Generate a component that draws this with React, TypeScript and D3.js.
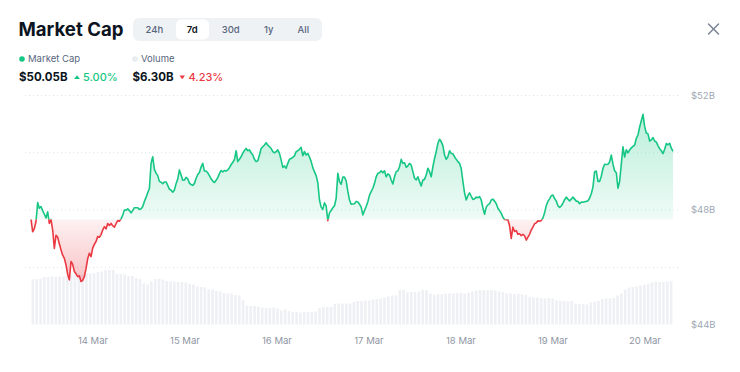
import React from "react";
import * as d3 from "d3";

// Market cap, ~26 min samples, 13 Mar 07:50 → 20 Mar 07:20 (billions USD)
const capValues: number[] = [
  47.67, 47.24, 47.35, 47.60, 48.26, 48.06, 48.12, 47.98, 47.85, 47.72,
  47.94, 47.53, 47.67, 47.30, 46.66, 47.12, 47.05, 46.82, 46.60, 46.42,
  46.31, 46.08, 45.75, 45.56, 46.20, 46.10, 45.85, 45.77, 45.67, 45.70,
  45.50, 45.54, 45.67, 45.95, 46.30, 46.49, 46.37, 46.67, 46.80, 46.90,
  47.07, 47.05, 47.14, 47.30, 47.42, 47.34, 47.53, 47.46, 47.53, 47.45,
  47.40, 47.52, 47.63, 47.61, 47.69, 47.82, 48.00, 47.99, 48.04, 47.98,
  47.90, 47.98, 48.08, 48.08, 48.08, 48.02, 48.04, 48.12, 48.30, 48.44,
  48.60, 48.75, 49.63, 49.86, 49.42, 49.29, 49.20, 49.00, 48.97, 48.92,
  48.98, 48.98, 48.86, 48.73, 48.69, 48.62, 48.70, 48.92, 49.08, 49.40,
  49.22, 49.04, 49.05, 49.14, 49.09, 48.94, 48.89, 48.86, 48.93, 49.10,
  49.24, 49.31, 49.50, 49.63, 49.36, 49.36, 49.30, 49.20, 49.09, 49.01,
  48.96, 49.04, 49.13, 49.27, 49.38, 49.33, 49.38, 49.36, 49.40, 49.48,
  49.58, 49.67, 49.76, 50.07, 49.69, 49.77, 49.86, 49.98, 50.08,
  50.15, 50.07, 50.10, 50.00, 49.92, 49.77, 49.69, 49.72, 49.92, 50.15,
  50.21, 50.27, 50.35, 50.27, 50.21, 50.15, 50.04, 50.00, 50.04, 50.10,
  49.98, 49.75, 49.49, 49.54, 49.46, 49.63, 49.77, 49.80, 49.84, 49.89,
  50.04, 50.07, 50.12, 50.19, 49.90, 50.04, 49.92, 49.98, 49.85, 49.70,
  49.48, 49.33, 49.20, 48.95, 48.35, 48.10, 48.02, 48.25, 48.14, 47.63,
  47.90, 47.98, 48.08, 48.15, 48.40, 49.28, 48.99, 48.90, 49.15, 49.15,
  49.02, 48.65, 48.35, 48.20, 48.21, 48.22, 48.30, 48.28, 48.20, 48.10,
  47.83, 47.98, 48.12, 48.29, 48.52, 48.64, 48.76, 48.93, 49.16, 49.28,
  49.30, 49.37, 49.30, 49.37, 49.16, 49.26, 49.22, 49.05, 48.91, 49.16,
  49.34, 49.37, 49.51, 49.77, 49.63, 49.65, 49.49, 49.54, 49.63, 49.57,
  49.34, 49.11, 49.05, 49.16, 48.99, 48.84, 49.05, 49.07, 49.22, 49.46,
  49.34, 49.16, 49.51, 49.80, 50.04, 50.33, 50.47, 50.39, 50.25, 49.92,
  49.77, 49.86, 50.07, 49.98, 49.96, 49.86, 49.77, 49.69, 49.63,
  49.45, 49.00, 48.60, 48.35, 48.50, 48.60, 48.48, 48.37, 48.39, 48.45,
  48.43, 48.47, 48.35, 48.08, 47.85, 48.10, 48.18, 48.22, 48.35, 48.38,
  48.31, 48.22, 48.06, 47.98, 47.88, 47.75, 47.67, 47.66, 47.66, 47.45,
  47.01, 47.40, 47.25, 47.28, 47.15, 47.17, 47.10, 47.15, 47.10, 46.95,
  47.05, 47.15, 47.30, 47.40, 47.52, 47.55, 47.62, 47.61, 47.63, 47.72,
  47.90, 48.15, 48.30, 48.39, 48.50, 48.52, 48.40, 48.31, 48.15, 48.09,
  48.14, 48.24, 48.36, 48.45, 48.38, 48.32, 48.38, 48.45, 48.38, 48.31,
  48.30, 48.22, 48.28, 48.27, 48.29, 48.30, 48.32, 48.42, 48.57, 48.80,
  49.34, 49.36, 49.00, 49.00, 49.18, 49.45, 49.60, 49.59, 49.60, 49.68,
  49.92, 49.60, 49.37, 49.30, 48.76, 49.00, 49.60, 50.21, 49.85, 50.10,
  50.00, 50.10, 50.17, 50.22, 50.27, 50.50, 50.62, 50.90, 51.12, 51.34,
  50.92, 50.69, 50.66, 50.41, 50.45, 50.53, 50.41, 50.37, 50.25, 50.14,
  50.07, 49.97, 50.12, 50.32, 50.28, 50.33, 50.16, 50.05,
];

// Hourly volume (billions USD)
const volumeValues: number[] = [
  9.06, 9.06, 9.2, 9.5, 9.5, 9.6, 9.55, 9.6, 9.6, 9.65,
  10.0, 10.0, 10.1, 10.1, 10.2, 10.2, 10.3, 10.5, 10.6, 10.9,
  10.9, 10.9, 10.1, 10.1, 10.0, 9.7, 9.7, 9.3, 9.1, 8.2,
  8.0, 8.6, 9.1, 9.1, 9.0, 8.7, 8.6, 8.6, 8.5, 8.5,
  8.4, 8.1, 8.0, 7.6, 7.5, 7.4, 7.0, 7.0, 6.7, 6.6,
  6.3, 6.2, 6.2, 5.9, 5.8, 4.9, 3.8, 3.7, 3.7, 3.6,
  3.4, 3.3, 3.3, 3.4, 3.2, 2.8, 3.0, 2.7, 2.5, 2.5,
  2.4, 2.5, 2.5, 2.5, 2.6, 3.3, 3.5, 3.5, 3.5, 4.1,
  4.2, 4.2, 4.2, 4.2, 4.5, 4.7, 4.7, 4.8, 4.8, 5.0,
  5.1, 5.2, 5.4, 5.6, 5.8, 5.8, 6.9, 6.9, 6.4, 6.5,
  6.5, 6.6, 6.9, 6.9, 6.2, 6.0, 6.1, 6.1, 6.2, 6.2,
  6.2, 6.3, 6.3, 6.2, 6.4, 6.6, 6.8, 6.9, 6.9, 6.8,
  6.9, 6.8, 6.6, 6.5, 6.2, 6.2, 6.1, 6.2, 6.0, 5.9,
  5.5, 5.4, 5.4, 5.3, 5.2, 5.3, 5.2, 4.8, 4.7, 4.7,
  4.6, 4.7, 4.2, 4.1, 4.1, 4.0, 4.4, 4.6, 4.7, 5.1,
  5.2, 5.2, 5.3, 5.8, 6.2, 7.0, 7.4, 7.5, 7.6, 7.8,
  8.0, 8.1, 8.4, 8.5, 8.5, 8.5, 8.6, 8.6,
];

const rangeOptions = ["24h", "7d", "30d", "1y", "All"];
const selectedRange = "7d";
const yTickValues = [44, 46, 48, 50, 52];
const yLabelValues = [44, 48, 52];
const summaryCap = "$50.05B";
const summaryCapChange = "5.00%";
const summaryVolume = "$6.30B";
const summaryVolumeChange = "4.23%";

const GREEN = "#16c784";
const RED = "#ea3943";

export default function App() {
  const W = 740;
  const H = 372;
  const start = new Date(2024, 2, 13, 7, 50).getTime();
  const spanMs = 167.48 * 3600 * 1000;
  const stepMs = spanMs / (capValues.length - 1);
  const end = start + spanMs;
  const capData = capValues.map((v, i) => ({ t: new Date(start + i * stepMs), v }));
  const barStep = spanMs / volumeValues.length;
  const volData = volumeValues.map((v, i) => ({ t: new Date(start + (i + 0.5) * barStep), v }));

  const x = d3.scaleTime().domain([new Date(start), new Date(end)]).range([31, 673]);
  const y = d3.scaleLinear().domain([44, 52]).range([324.5, 95.5]);
  const yVol = d3.scaleLinear().domain([0, 11.2]).range([324.5, 268.5]);

  const baseV = capValues[0];
  const baseY = y(baseV);

  const line = d3.line<{ t: Date; v: number }>().x((d) => x(d.t)).y((d) => y(d.v));
  const area = d3
    .area<{ t: Date; v: number }>()
    .x((d) => x(d.t))
    .y0(baseY)
    .y1((d) => y(d.v));

  const linePath = line(capData) || "";
  const areaPath = area(capData) || "";

  const xTicks = x.ticks(d3.timeDay.every(1)!).filter((d) => x(d) > 40 && x(d) < 670);
  const fmt = d3.timeFormat("%-d %b");
  const barW = (x(new Date(start + barStep)) - x(new Date(start))) * 0.68;

  const font = "Inter, 'Noto Sans', sans-serif";
  const segCenters = [154.3, 192.3, 230.7, 268.7, 303.3];

  return (
    <svg
      width={W}
      height={H}
      style={{ position: "absolute", left: 0, top: 0, background: "#fff" }}
      fontFamily={font}
    >
      <defs>
        <linearGradient id="gUp" gradientUnits="userSpaceOnUse" x1="0" x2="0" y1={110} y2={baseY}>
          <stop offset="0" stopColor={GREEN} stopOpacity={0.3} />
          <stop offset="1" stopColor={GREEN} stopOpacity={0.07} />
        </linearGradient>
        <linearGradient id="gDown" gradientUnits="userSpaceOnUse" x1="0" x2="0" y1={baseY} y2={285}>
          <stop offset="0" stopColor={RED} stopOpacity={0.07} />
          <stop offset="1" stopColor={RED} stopOpacity={0.32} />
        </linearGradient>
        <clipPath id="cAbove">
          <rect x={0} y={0} width={W} height={baseY} />
        </clipPath>
        <clipPath id="cBelow">
          <rect x={0} y={baseY} width={W} height={H - baseY} />
        </clipPath>
      </defs>

      {/* Header */}
      <text x={18.5} y={35.5} fontSize={18.6} fontWeight={700} fill="#0d1421">
        Market Cap
      </text>
      <rect x={133} y={18} width={189} height={23} rx={6} fill="#eff2f5" />
      <rect x={176} y={19.5} width={33} height={20} rx={5} fill="#ffffff" />
      {rangeOptions.map((r, i) => (
        <text
          key={r}
          x={segCenters[i]}
          y={32.5}
          fontSize={9.5}
          textAnchor="middle"
          fontWeight={r === selectedRange ? 600 : 500}
          fill={r === selectedRange ? "#0d1421" : "#58667e"}
        >
          {r}
        </text>
      ))}

      {/* Close icon */}
      <g stroke="#7b8496" strokeWidth={1.5} strokeLinecap="round">
        <line x1={708.5} y1={24} x2={718.5} y2={34} />
        <line x1={718.5} y1={24} x2={708.5} y2={34} />
      </g>

      {/* Legend */}
      <circle cx={22} cy={59} r={2.8} fill={GREEN} />
      <text x={28} y={62.3} fontSize={9.5} fill="#58667e">Market Cap</text>
      <circle cx={135} cy={59} r={2.8} fill="#e8ebef" />
      <text x={141} y={62.3} fontSize={9.5} fill="#58667e">Volume</text>

      <text x={19} y={81} fontSize={11.5} fontWeight={700} fill="#0d1421">{summaryCap}</text>
      <path d="M74,79 L77,75.2 L80,79 Z" fill={GREEN} />
      <text x={83} y={81} fontSize={11} fontWeight={500} fill={GREEN}>{summaryCapChange}</text>
      <text x={132.5} y={81} fontSize={11.5} fontWeight={700} fill="#0d1421">{summaryVolume}</text>
      <path d="M179.5,75.5 L185,75.5 L182.25,79.2 Z" fill={RED} />
      <text x={188.5} y={81} fontSize={11} fontWeight={500} fill={RED}>{summaryVolumeChange}</text>

      {/* Volume bars */}
      {volData.map((d, i) => (
        <rect
          key={i}
          x={x(d.t) - barW / 2}
          y={yVol(d.v)}
          width={barW}
          height={yVol(0) - yVol(d.v)}
          fill="#eef0f4"
        />
      ))}

      {/* Grid */}
      {yTickValues
        .filter((v) => v > 44)
        .map((v) => (
          <line
            key={v}
            x1={25}
            x2={680}
            y1={y(v)}
            y2={y(v)}
            stroke="#dfe3e8"
            strokeWidth={1}
            strokeDasharray="1 3"
          />
        ))}

      {/* Areas */}
      <path d={areaPath} fill="url(#gUp)" clipPath="url(#cAbove)" />
      <path d={areaPath} fill="url(#gDown)" clipPath="url(#cBelow)" />

      {/* Lines */}
      <path d={linePath} fill="none" stroke={GREEN} strokeWidth={1.6} strokeLinejoin="round" clipPath="url(#cAbove)" />
      <path d={linePath} fill="none" stroke={RED} strokeWidth={1.6} strokeLinejoin="round" clipPath="url(#cBelow)" />

      {/* Y labels */}
      {yLabelValues.map((v) => (
        <text key={v} x={691} y={y(v)} dy="0.35em" fontSize={9.5} fill="#a0a7b4">
          {`$${v}B`}
        </text>
      ))}

      {/* X labels */}
      {xTicks.map((d) => (
        <text key={+d} x={x(d)} y={343.5} fontSize={9.5} textAnchor="middle" fill="#8f96a3">
          {fmt(d)}
        </text>
      ))}
    </svg>
  );
}
